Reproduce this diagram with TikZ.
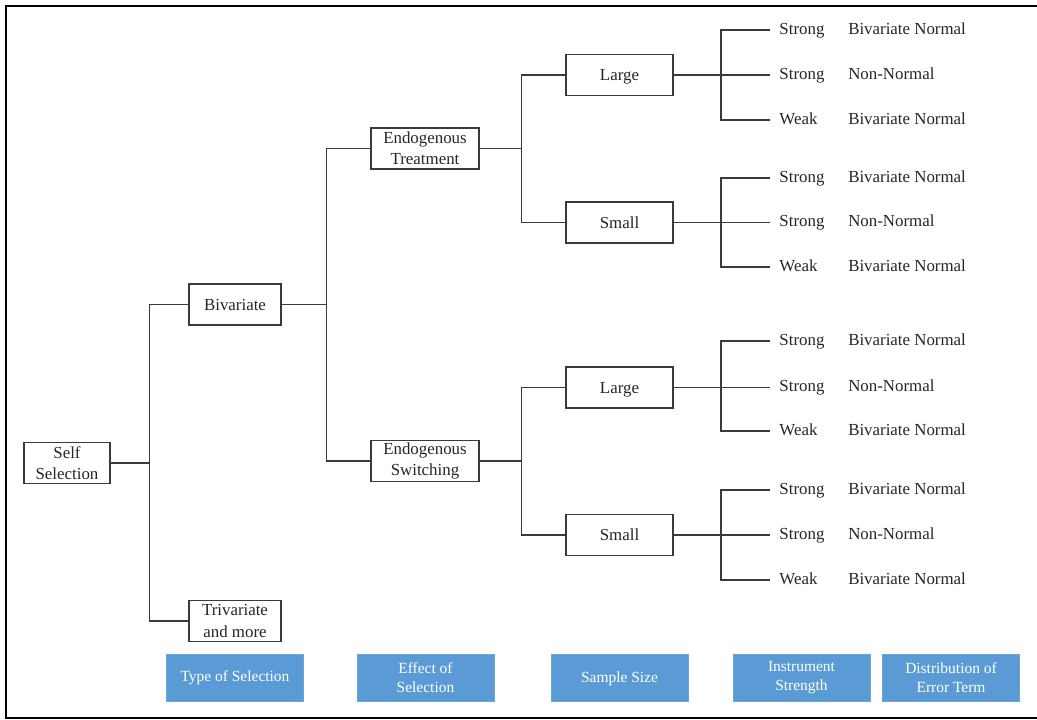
\documentclass[tikz,border=0pt]{standalone}
\usepackage{fontspec}
\setmainfont{Liberation Serif}
\definecolor{lineg}{HTML}{3A3A3A}
\definecolor{txtg}{HTML}{262626}
\definecolor{bluef}{HTML}{5B9BD5}
\definecolor{blued}{HTML}{6FA6D8}
\begin{document}
\begin{tikzpicture}[x=0.025cm,y=-0.025cm,
  treebox/.style={draw=lineg,line width=0.95pt,fill=white,align=center,inner sep=0pt,
    font=\fontsize{12}{15}\selectfont,text=txtg,minimum height=1.025cm},
  oneline/.style={text depth=0pt},
  leaf/.style={anchor=west,inner xsep=0.23cm,inner ysep=0pt,font=\fontsize{12}{15}\selectfont,
    text=txtg,text height=0.58em,text depth=0pt},
  dist/.style={anchor=west,inner sep=0pt,font=\fontsize{12}{15}\selectfont,
    text=txtg,text height=0.58em,text depth=0pt},
  bluebox/.style={draw=blued,line width=0.6pt,fill=bluef,align=center,inner sep=0pt,
    font=\fontsize{11}{14}\selectfont,text=white,minimum width=3.42cm,minimum height=1.175cm},
  conn/.style={draw=lineg,line width=0.95pt}]
\useasboundingbox (0,0) rectangle (1037,720);
\draw[line width=1.5pt,black] (1037,6) -- (6,6) -- (6,718) -- (1037,718);

% tree boxes
\node[treebox,minimum width=2.15cm] (self) at (67,463) {Self\\Selection};
\node[treebox,oneline,minimum width=2.3cm] (biv) at (235,304.5) {Bivariate};
\node[treebox,minimum width=2.3cm] (tri) at (235,621) {Trivariate\\and more};
\node[treebox,minimum width=2.7cm] (et) at (425,148.5) {Endogenous\\Treatment};
\node[treebox,minimum width=2.7cm] (es) at (425,461) {Endogenous\\Switching};
\node[treebox,oneline,minimum width=2.675cm] (lg1) at (619.5,75) {Large};
\node[treebox,oneline,minimum width=2.675cm] (sm1) at (619.5,222.5) {Small};
\node[treebox,oneline,minimum width=2.675cm] (lg2) at (619.5,387.5) {Large};
\node[treebox,oneline,minimum width=2.675cm] (sm2) at (619.5,535) {Small};

% junctions
\coordinate (j1) at (149.5,463);
\coordinate (j2) at (326.5,304.5);
\coordinate (j3) at (521.5,148.5);
\coordinate (j4) at (521.5,461);
\coordinate (j5) at (721,75);
\coordinate (j6) at (721,222.5);
\coordinate (j7) at (721,387.5);
\coordinate (j8) at (721,535);

% leaves
\foreach \n/\y/\s/\d in {a1/30/Strong/Bivariate Normal, a2/75/Strong/Non-Normal, a3/120/Weak/Bivariate Normal,
  b1/178/Strong/Bivariate Normal, b2/222.5/Strong/Non-Normal, b3/267/Weak/Bivariate Normal,
  c1/341/Strong/Bivariate Normal, c2/387.5/Strong/Non-Normal, c3/431/Weak/Bivariate Normal,
  d1/490/Strong/Bivariate Normal, d2/535/Strong/Non-Normal, d3/580/Weak/Bivariate Normal}{
  \node[leaf] (\n) at (770,\y) {\s};
  \node[dist] (\n e) at (848,\y) {\d};
}

% connectors
\draw[conn] (self) -- (j1);
\draw[conn] (j1) |- (biv);
\draw[conn] (j1) |- (tri);
\draw[conn] (biv) -- (j2);
\draw[conn] (j2) |- (et);
\draw[conn] (j2) |- (es);
\draw[conn] (et) -- (j3);
\draw[conn] (j3) |- (lg1);
\draw[conn] (j3) |- (sm1);
\draw[conn] (es) -- (j4);
\draw[conn] (j4) |- (lg2);
\draw[conn] (j4) |- (sm2);
\draw[conn] (lg1) -- (j5);
\draw[conn] (j5) |- (a1.west);
\draw[conn] (j5) -- (a2.west);
\draw[conn] (j5) |- (a3.west);
\draw[conn] (sm1) -- (j6);
\draw[conn] (j6) |- (b1.west);
\draw[conn] (j6) -- (b2.west);
\draw[conn] (j6) |- (b3.west);
\draw[conn] (lg2) -- (j7);
\draw[conn] (j7) |- (c1.west);
\draw[conn] (j7) -- (c2.west);
\draw[conn] (j7) |- (c3.west);
\draw[conn] (sm2) -- (j8);
\draw[conn] (j8) |- (d1.west);
\draw[conn] (j8) -- (d2.west);
\draw[conn] (j8) |- (d3.west);

% legend boxes
\node[bluebox] (l1) at (235,677.5) {Type of Selection};
\node[bluebox] (l2) at (425.5,677.5) {Effect of\\Selection};
\node[bluebox,oneline] (l3) at (619.5,677.5) {Sample Size};
\node[bluebox] (l4) at (801.5,677.5) {Instrument\\Strength};
\node[bluebox] (l5) at (951,677.5) {Distribution of\\Error Term};
\end{tikzpicture}
\end{document}
